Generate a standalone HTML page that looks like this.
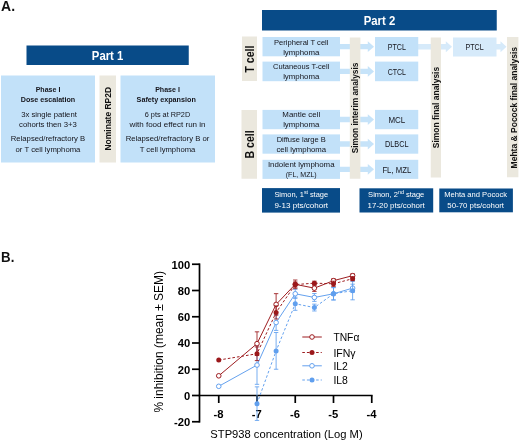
<!DOCTYPE html>
<html><head><meta charset="utf-8"><title>Figure</title>
<style>
html,body{margin:0;padding:0;background:#fff;}
body{width:520px;height:441px;overflow:hidden;}
svg{display:block;font-family:"Liberation Sans",sans-serif;filter:blur(0.35px);}
</style></head><body>
<svg width="520" height="441" viewBox="0 0 520 441">
<rect width="520" height="441" fill="#fff"/>
<text x="1.1" y="11.43" text-anchor="start" font-size="14.88" font-weight="700" fill="#111" textLength="13.97" lengthAdjust="spacingAndGlyphs">A.</text>
<text x="1.1" y="262.43" text-anchor="start" font-size="14.88" font-weight="700" fill="#111" textLength="13.25" lengthAdjust="spacingAndGlyphs">B.</text>
<rect x="26.5" y="45.5" width="162.25" height="19.5" fill="#084b88"/>
<text x="107.6" y="59.66" text-anchor="middle" font-size="11.9" font-weight="700" fill="#fff" textLength="31.5" lengthAdjust="spacingAndGlyphs">Part 1</text>
<rect x="1" y="75.5" width="94" height="87.0" fill="#c2e1f9"/>
<rect x="99.5" y="75.5" width="16.5" height="87.0" fill="#ebe8de"/>
<rect x="120.5" y="75.5" width="94.5" height="87.0" fill="#c2e1f9"/>
<text x="48" y="92.18" text-anchor="middle" font-size="7.77" font-weight="700" fill="#15151c" textLength="24.73" lengthAdjust="spacingAndGlyphs">Phase I</text>
<text x="48" y="102.08" text-anchor="middle" font-size="7.77" font-weight="700" fill="#15151c" textLength="54.49" lengthAdjust="spacingAndGlyphs">Dose escalation</text>
<text x="49" y="117.18" text-anchor="middle" font-size="7.77" fill="#15151c" textLength="55.69" lengthAdjust="spacingAndGlyphs">3x single patient</text>
<text x="48" y="127.18" text-anchor="middle" font-size="7.77" fill="#15151c" textLength="57.88" lengthAdjust="spacingAndGlyphs">cohorts then 3+3</text>
<text x="48" y="141.38" text-anchor="middle" font-size="7.77" fill="#15151c" textLength="74.5" lengthAdjust="spacingAndGlyphs">Relapsed/refractory B</text>
<text x="48" y="151.58" text-anchor="middle" font-size="7.77" fill="#15151c" textLength="64.84" lengthAdjust="spacingAndGlyphs">or T cell lymphoma</text>
<text transform="translate(110.54 118.7) rotate(-90)" text-anchor="middle" font-size="8.5" font-weight="700" fill="#111" textLength="63.64" lengthAdjust="spacingAndGlyphs">Nominate RP2D</text>
<text x="167.5" y="92.18" text-anchor="middle" font-size="7.77" font-weight="700" fill="#15151c" textLength="24.73" lengthAdjust="spacingAndGlyphs">Phase I</text>
<text x="166.2" y="102.08" text-anchor="middle" font-size="7.77" font-weight="700" fill="#15151c" textLength="59.21" lengthAdjust="spacingAndGlyphs">Safety expansion</text>
<text x="167.5" y="116.98" text-anchor="middle" font-size="7.77" fill="#15151c" textLength="45.41" lengthAdjust="spacingAndGlyphs">6 pts at RP2D</text>
<text x="167.5" y="127.18" text-anchor="middle" font-size="7.77" fill="#15151c" textLength="76.15" lengthAdjust="spacingAndGlyphs">with food effect run in</text>
<text x="167.5" y="141.38" text-anchor="middle" font-size="7.77" fill="#15151c" textLength="83.71" lengthAdjust="spacingAndGlyphs">Relapsed/refractory B or</text>
<text x="167.5" y="151.58" text-anchor="middle" font-size="7.77" fill="#15151c" textLength="55.63" lengthAdjust="spacingAndGlyphs">T cell lymphoma</text>
<rect x="262" y="10" width="234.75" height="20.5" fill="#084b88"/>
<text x="379.5" y="24.66" text-anchor="middle" font-size="11.9" font-weight="700" fill="#fff" textLength="31.5" lengthAdjust="spacingAndGlyphs">Part 2</text>
<rect x="242" y="36.5" width="15" height="44.5" fill="#ebe8de"/>
<rect x="241.5" y="110" width="15.5" height="68.75" fill="#ebe8de"/>
<text transform="translate(253.56 59.1) rotate(-90)" text-anchor="middle" font-size="11.9" font-weight="700" fill="#111" textLength="27.32" lengthAdjust="spacingAndGlyphs">T cell</text>
<text transform="translate(253.56 144.4) rotate(-90)" text-anchor="middle" font-size="11.9" font-weight="700" fill="#111" textLength="28.16" lengthAdjust="spacingAndGlyphs">B cell</text>
<path d="M340 43.949999999999996H367.8V41.25L374 46.65L367.8 52.05V49.35H340Z" fill="#c6e3f9"/>
<path d="M340 68.7H367.8V66.0L374 71.4L367.8 76.80000000000001V74.10000000000001H340Z" fill="#c6e3f9"/>
<path d="M340 116.85H367.8V114.14999999999999L374 119.55L367.8 124.95V122.25H340Z" fill="#c6e3f9"/>
<path d="M340 141.35000000000002H367.8V138.65L374 144.05L367.8 149.45000000000002V146.75H340Z" fill="#c6e3f9"/>
<path d="M340 166.65000000000003H367.8V163.95000000000002L374 169.35000000000002L367.8 174.75000000000003V172.05H340Z" fill="#c6e3f9"/>
<path d="M418 44.05H445.8V41.35L452 46.75L445.8 52.15V49.45H418Z" fill="#d6eafa"/>
<path d="M496 44.05H500.5V41.35L506.5 46.75L500.5 52.15V49.45H496Z" fill="#d6eafa"/>
<rect x="349.8" y="37.5" width="10.6" height="141.25" fill="#ebe8de"/>
<rect x="430.75" y="37.5" width="10.25" height="140.0" fill="#ebe8de"/>
<rect x="507" y="37" width="11.4" height="140.25" fill="#ebe8de"/>
<rect x="262.5" y="37" width="77.5" height="19.3" fill="#c2e1f9"/>
<text x="301.25" y="44.53" text-anchor="middle" font-size="7.77" fill="#15151c" textLength="54.47" lengthAdjust="spacingAndGlyphs">Peripheral T cell</text>
<text x="301.25" y="54.53" text-anchor="middle" font-size="7.77" fill="#15151c" textLength="36.25" lengthAdjust="spacingAndGlyphs">lymphoma</text>
<rect x="375" y="37" width="43.25" height="19.3" fill="#c2e1f9"/>
<text x="396.8" y="50.05" text-anchor="middle" font-size="8.65" fill="#15151c" textLength="18.2" lengthAdjust="spacingAndGlyphs">PTCL</text>
<rect x="262.5" y="61.6" width="77.5" height="19.6" fill="#c2e1f9"/>
<text x="301.25" y="69.28" text-anchor="middle" font-size="7.77" fill="#15151c" textLength="56.31" lengthAdjust="spacingAndGlyphs">Cutaneous T-cell</text>
<text x="301.25" y="79.28" text-anchor="middle" font-size="7.77" fill="#15151c" textLength="36.25" lengthAdjust="spacingAndGlyphs">lymphoma</text>
<rect x="375" y="61.6" width="43.25" height="19.6" fill="#c2e1f9"/>
<text x="396.8" y="74.8" text-anchor="middle" font-size="8.65" fill="#15151c" textLength="18.35" lengthAdjust="spacingAndGlyphs">CTCL</text>
<rect x="262.5" y="109.9" width="77.5" height="19.3" fill="#c2e1f9"/>
<text x="301.25" y="117.43" text-anchor="middle" font-size="7.77" fill="#15151c" textLength="37.84" lengthAdjust="spacingAndGlyphs">Mantle cell</text>
<text x="301.25" y="127.43" text-anchor="middle" font-size="7.77" fill="#15151c" textLength="36.25" lengthAdjust="spacingAndGlyphs">lymphoma</text>
<rect x="375" y="109.9" width="43.25" height="19.3" fill="#c2e1f9"/>
<text x="396.8" y="122.95" text-anchor="middle" font-size="8.65" fill="#15151c" textLength="16.81" lengthAdjust="spacingAndGlyphs">MCL</text>
<rect x="262.5" y="134.4" width="77.5" height="19.3" fill="#c2e1f9"/>
<text x="301.25" y="141.93" text-anchor="middle" font-size="7.77" fill="#15151c" textLength="49.24" lengthAdjust="spacingAndGlyphs">Diffuse large B</text>
<text x="301.25" y="151.93" text-anchor="middle" font-size="7.77" fill="#15151c" textLength="49.67" lengthAdjust="spacingAndGlyphs">cell lymphoma</text>
<rect x="375" y="134.4" width="43.25" height="19.3" fill="#c2e1f9"/>
<text x="396.8" y="147.45" text-anchor="middle" font-size="8.65" fill="#15151c" textLength="23.55" lengthAdjust="spacingAndGlyphs">DLBCL</text>
<rect x="262.5" y="159.8" width="77.5" height="19.1" fill="#c2e1f9"/>
<text x="301.25" y="167.23" text-anchor="middle" font-size="7.77" fill="#15151c" textLength="66.7" lengthAdjust="spacingAndGlyphs">Indolent lymphoma</text>
<text x="301.25" y="177.23" text-anchor="middle" font-size="7.77" fill="#15151c" textLength="30.97" lengthAdjust="spacingAndGlyphs">(FL, MZL)</text>
<rect x="375" y="159.8" width="43.25" height="19.1" fill="#c2e1f9"/>
<text x="396.8" y="172.75" text-anchor="middle" font-size="8.65" fill="#15151c" textLength="28.81" lengthAdjust="spacingAndGlyphs">FL, MZL</text>
<rect x="453" y="37.5" width="43.5" height="19.0" fill="#d6eafa"/>
<text x="474.6" y="50.2" text-anchor="middle" font-size="8.65" fill="#15151c" textLength="18.2" lengthAdjust="spacingAndGlyphs">PTCL</text>
<text transform="translate(358.04 108) rotate(-90)" text-anchor="middle" font-size="8.5" font-weight="700" fill="#111" textLength="90.66" lengthAdjust="spacingAndGlyphs">Simon interim analysis</text>
<text transform="translate(439.04 107.5) rotate(-90)" text-anchor="middle" font-size="8.5" font-weight="700" fill="#111" textLength="81.3" lengthAdjust="spacingAndGlyphs">Simon final analysis</text>
<text transform="translate(516.51 107.7) rotate(-90)" text-anchor="middle" font-size="8.4" font-weight="700" fill="#111" textLength="121.4" lengthAdjust="spacingAndGlyphs">Mehta &amp; Pocock final analysis</text>
<rect x="262" y="188.1" width="78" height="24.5" fill="#084b88"/>
<rect x="359.5" y="188.3" width="73.7" height="24.2" fill="#084b88"/>
<rect x="439.3" y="188.5" width="73.6" height="23.8" fill="#084b88"/>
<text x="274.4" y="196.9" text-anchor="start" font-size="7.81" fill="#fff" textLength="29.48" lengthAdjust="spacingAndGlyphs">Simon, 1</text>
<text x="303.88" y="194.1" text-anchor="start" font-size="5.31" fill="#fff" textLength="4.13" lengthAdjust="spacingAndGlyphs">st</text>
<text x="309.9" y="196.9" text-anchor="start" font-size="7.81" fill="#fff" textLength="18.2" lengthAdjust="spacingAndGlyphs">stage</text>
<text x="301.25" y="207.9" text-anchor="middle" font-size="7.81" fill="#fff" textLength="53.7" lengthAdjust="spacingAndGlyphs">9-13 pts/cohort</text>
<text x="368.1" y="196.9" text-anchor="start" font-size="7.81" fill="#fff" textLength="29.83" lengthAdjust="spacingAndGlyphs">Simon, 2</text>
<text x="397.93" y="194.1" text-anchor="start" font-size="5.31" fill="#fff" textLength="6.05" lengthAdjust="spacingAndGlyphs">nd</text>
<text x="405.89" y="196.9" text-anchor="start" font-size="7.81" fill="#fff" textLength="18.41" lengthAdjust="spacingAndGlyphs">stage</text>
<text x="396.2" y="207.9" text-anchor="middle" font-size="7.81" fill="#fff" textLength="57.2" lengthAdjust="spacingAndGlyphs">17-20 pts/cohort</text>
<text x="475.6" y="196.9" text-anchor="middle" font-size="7.81" fill="#fff" textLength="62.8" lengthAdjust="spacingAndGlyphs">Mehta and Pocock</text>
<text x="475.7" y="207.9" text-anchor="middle" font-size="7.81" fill="#fff" textLength="56.7" lengthAdjust="spacingAndGlyphs">50-70 pts/cohort</text>
<path d="M199.5 263.4V422.6" stroke="#000" stroke-width="1.7" fill="none"/>
<path d="M198.65 395.5H372.6" stroke="#000" stroke-width="1.7" fill="none"/>
<path d="M192 264.25H199.5" stroke="#000" stroke-width="1.7"/>
<text x="190.2" y="268.55" text-anchor="end" font-size="11.44" font-weight="700" fill="#000" textLength="18.71" lengthAdjust="spacingAndGlyphs">100</text>
<path d="M192 290.5H199.5" stroke="#000" stroke-width="1.7"/>
<text x="190.2" y="294.8" text-anchor="end" font-size="11.44" font-weight="700" fill="#000" textLength="12.47" lengthAdjust="spacingAndGlyphs">80</text>
<path d="M192 316.75H199.5" stroke="#000" stroke-width="1.7"/>
<text x="190.2" y="321.05" text-anchor="end" font-size="11.44" font-weight="700" fill="#000" textLength="12.47" lengthAdjust="spacingAndGlyphs">60</text>
<path d="M192 343.0H199.5" stroke="#000" stroke-width="1.7"/>
<text x="190.2" y="347.3" text-anchor="end" font-size="11.44" font-weight="700" fill="#000" textLength="12.47" lengthAdjust="spacingAndGlyphs">40</text>
<path d="M192 369.25H199.5" stroke="#000" stroke-width="1.7"/>
<text x="190.2" y="373.55" text-anchor="end" font-size="11.44" font-weight="700" fill="#000" textLength="12.47" lengthAdjust="spacingAndGlyphs">20</text>
<path d="M192 395.5H199.5" stroke="#000" stroke-width="1.7"/>
<text x="190.2" y="399.8" text-anchor="end" font-size="11.44" font-weight="700" fill="#000" textLength="6.24" lengthAdjust="spacingAndGlyphs">0</text>
<path d="M192 421.75H199.5" stroke="#000" stroke-width="1.7"/>
<text x="190.2" y="426.05" text-anchor="end" font-size="11.44" font-weight="700" fill="#000" textLength="16.24" lengthAdjust="spacingAndGlyphs">-20</text>
<path d="M218.75 395.5V403" stroke="#000" stroke-width="1.7"/>
<text x="218.45" y="417.9" text-anchor="middle" font-size="11.44" font-weight="700" fill="#000" textLength="10.0" lengthAdjust="spacingAndGlyphs">-8</text>
<path d="M257.0 395.5V403" stroke="#000" stroke-width="1.7"/>
<text x="256.7" y="417.9" text-anchor="middle" font-size="11.44" font-weight="700" fill="#000" textLength="10.0" lengthAdjust="spacingAndGlyphs">-7</text>
<path d="M295.25 395.5V403" stroke="#000" stroke-width="1.7"/>
<text x="294.95" y="417.9" text-anchor="middle" font-size="11.44" font-weight="700" fill="#000" textLength="10.0" lengthAdjust="spacingAndGlyphs">-6</text>
<path d="M333.5 395.5V403" stroke="#000" stroke-width="1.7"/>
<text x="333.2" y="417.9" text-anchor="middle" font-size="11.44" font-weight="700" fill="#000" textLength="10.0" lengthAdjust="spacingAndGlyphs">-5</text>
<path d="M371.75 395.5V403" stroke="#000" stroke-width="1.7"/>
<text x="371.45" y="417.9" text-anchor="middle" font-size="11.44" font-weight="700" fill="#000" textLength="10.0" lengthAdjust="spacingAndGlyphs">-4</text>
<text transform="translate(162.8 341.8) rotate(-90)" text-anchor="middle" font-size="12.0" fill="#000" textLength="141.6" lengthAdjust="spacingAndGlyphs">% inhibition (mean ± SEM)</text>
<text x="286.5" y="438.0" text-anchor="middle" font-size="11.72" fill="#000" textLength="152.3" lengthAdjust="spacingAndGlyphs">STP938 concentration (Log M)</text>
<path d="M257.0 345.76V384.34M254.8 345.76h4.4M254.8 384.34h4.4" stroke="#609fee" stroke-width="0.85" fill="none"/>
<path d="M276.12 314.65V330.4M273.92 314.65h4.4M273.92 330.4h4.4" stroke="#609fee" stroke-width="0.85" fill="none"/>
<path d="M295.25 289.19V298.38M293.05 289.19h4.4M293.05 298.38h4.4" stroke="#609fee" stroke-width="0.85" fill="none"/>
<path d="M314.38 293.52V301.39M312.18 293.52h4.4M312.18 301.39h4.4" stroke="#609fee" stroke-width="0.85" fill="none"/>
<path d="M333.5 287.61V299.95M331.3 287.61h4.4M331.3 299.95h4.4" stroke="#609fee" stroke-width="0.85" fill="none"/>
<path d="M352.62 284.2V292.07M350.42 284.2h4.4M350.42 292.07h4.4" stroke="#609fee" stroke-width="0.85" fill="none"/>
<path d="M218.75 386.31L257.0 365.05L276.12 322.52L295.25 293.78L314.38 297.46L333.5 293.78L352.62 288.14" stroke="#609fee" stroke-width="0.98" fill="none"/>
<circle cx="218.75" cy="386.31" r="2.3" fill="#fff" stroke="#609fee" stroke-width="0.98"/>
<circle cx="257.0" cy="365.05" r="2.3" fill="#fff" stroke="#609fee" stroke-width="0.98"/>
<circle cx="276.12" cy="322.52" r="2.3" fill="#fff" stroke="#609fee" stroke-width="0.98"/>
<circle cx="295.25" cy="293.78" r="2.3" fill="#fff" stroke="#609fee" stroke-width="0.98"/>
<circle cx="314.38" cy="297.46" r="2.3" fill="#fff" stroke="#609fee" stroke-width="0.98"/>
<circle cx="333.5" cy="293.78" r="2.3" fill="#fff" stroke="#609fee" stroke-width="0.98"/>
<circle cx="352.62" cy="288.14" r="2.3" fill="#fff" stroke="#609fee" stroke-width="0.98"/>
<path d="M257.0 386.84V420.44M254.8 386.84h4.4M254.8 420.44h4.4" stroke="#609fee" stroke-width="0.85" fill="none"/>
<path d="M276.12 332.5V369.25M273.92 332.5h4.4M273.92 369.25h4.4" stroke="#609fee" stroke-width="0.85" fill="none"/>
<path d="M295.25 297.19V310.32M293.05 297.19h4.4M293.05 310.32h4.4" stroke="#609fee" stroke-width="0.85" fill="none"/>
<path d="M314.38 304.15V310.98M312.18 304.15h4.4M312.18 310.98h4.4" stroke="#609fee" stroke-width="0.85" fill="none"/>
<path d="M333.5 287.61V299.95M331.3 287.61h4.4M331.3 299.95h4.4" stroke="#609fee" stroke-width="0.85" fill="none"/>
<path d="M352.62 281.44V299.82M350.42 281.44h4.4M350.42 299.82h4.4" stroke="#609fee" stroke-width="0.85" fill="none"/>
<path d="M257.0 403.64L276.12 350.88L295.25 303.76L314.38 307.56L333.5 293.78L352.62 290.63" stroke="#609fee" stroke-width="0.98" fill="none" stroke-dasharray="2.6 2"/>
<circle cx="257.0" cy="403.64" r="2.5" fill="#609fee"/>
<circle cx="276.12" cy="350.88" r="2.5" fill="#609fee"/>
<circle cx="295.25" cy="303.76" r="2.5" fill="#609fee"/>
<circle cx="314.38" cy="307.56" r="2.5" fill="#609fee"/>
<circle cx="333.5" cy="293.78" r="2.5" fill="#609fee"/>
<circle cx="352.62" cy="290.63" r="2.5" fill="#609fee"/>
<path d="M257.0 331.84V355.47M254.8 331.84h4.4M254.8 355.47h4.4" stroke="#9b181b" stroke-width="0.85" fill="none"/>
<path d="M276.12 293.65V315.18M273.92 293.65h4.4M273.92 315.18h4.4" stroke="#9b181b" stroke-width="0.85" fill="none"/>
<path d="M295.25 280.0V288.66M293.05 280.0h4.4M293.05 288.66h4.4" stroke="#9b181b" stroke-width="0.85" fill="none"/>
<path d="M314.38 284.86V291.42M312.18 284.86h4.4M312.18 291.42h4.4" stroke="#9b181b" stroke-width="0.85" fill="none"/>
<path d="M333.5 278.69V282.62M331.3 278.69h4.4M331.3 282.62h4.4" stroke="#9b181b" stroke-width="0.85" fill="none"/>
<path d="M352.62 273.7V277.64M350.42 273.7h4.4M350.42 277.64h4.4" stroke="#9b181b" stroke-width="0.85" fill="none"/>
<path d="M218.75 375.81L257.0 343.66L276.12 304.41L295.25 284.33L314.38 288.14L333.5 280.66L352.62 275.67" stroke="#9b181b" stroke-width="0.98" fill="none"/>
<circle cx="218.75" cy="375.81" r="2.3" fill="#fff" stroke="#9b181b" stroke-width="0.98"/>
<circle cx="257.0" cy="343.66" r="2.3" fill="#fff" stroke="#9b181b" stroke-width="0.98"/>
<circle cx="276.12" cy="304.41" r="2.3" fill="#fff" stroke="#9b181b" stroke-width="0.98"/>
<circle cx="295.25" cy="284.33" r="2.3" fill="#fff" stroke="#9b181b" stroke-width="0.98"/>
<circle cx="314.38" cy="288.14" r="2.3" fill="#fff" stroke="#9b181b" stroke-width="0.98"/>
<circle cx="333.5" cy="280.66" r="2.3" fill="#fff" stroke="#9b181b" stroke-width="0.98"/>
<circle cx="352.62" cy="275.67" r="2.3" fill="#fff" stroke="#9b181b" stroke-width="0.98"/>
<path d="M257.0 346.94V360.59M254.8 346.94h4.4M254.8 360.59h4.4" stroke="#9b181b" stroke-width="0.85" fill="none"/>
<path d="M276.12 305.86V318.98M273.92 305.86h4.4M273.92 318.98h4.4" stroke="#9b181b" stroke-width="0.85" fill="none"/>
<path d="M295.25 281.97V287.22M293.05 281.97h4.4M293.05 287.22h4.4" stroke="#9b181b" stroke-width="0.85" fill="none"/>
<path d="M314.38 281.18V285.12M312.18 281.18h4.4M312.18 285.12h4.4" stroke="#9b181b" stroke-width="0.85" fill="none"/>
<path d="M333.5 281.18V286.43M331.3 281.18h4.4M331.3 286.43h4.4" stroke="#9b181b" stroke-width="0.85" fill="none"/>
<path d="M352.62 276.72V280.66M350.42 276.72h4.4M350.42 280.66h4.4" stroke="#9b181b" stroke-width="0.85" fill="none"/>
<path d="M218.75 360.06L257.0 353.76L276.12 312.42L295.25 284.59L314.38 283.15L333.5 283.81L352.62 278.69" stroke="#9b181b" stroke-width="0.98" fill="none" stroke-dasharray="2.6 2"/>
<circle cx="218.75" cy="360.06" r="2.5" fill="#9b181b"/>
<circle cx="257.0" cy="353.76" r="2.5" fill="#9b181b"/>
<circle cx="276.12" cy="312.42" r="2.5" fill="#9b181b"/>
<circle cx="295.25" cy="284.59" r="2.5" fill="#9b181b"/>
<circle cx="314.38" cy="283.15" r="2.5" fill="#9b181b"/>
<circle cx="333.5" cy="283.81" r="2.5" fill="#9b181b"/>
<circle cx="352.62" cy="278.69" r="2.5" fill="#9b181b"/>
<path d="M302.3 337H321.8" stroke="#9b181b" stroke-width="0.98"/>
<circle cx="312" cy="337" r="2.3" fill="#fff" stroke="#9b181b" stroke-width="0.98"/>
<text x="333.4" y="341.4" text-anchor="start" font-size="11.44" fill="#000" textLength="25.98" lengthAdjust="spacingAndGlyphs">TNFα</text>
<path d="M302.3 352.5H321.8" stroke="#9b181b" stroke-width="0.98" stroke-dasharray="2.6 2"/>
<circle cx="312" cy="352.5" r="2.5" fill="#9b181b"/>
<text x="333.4" y="356.9" text-anchor="start" font-size="11.44" fill="#000" textLength="22.23" lengthAdjust="spacingAndGlyphs">IFNγ</text>
<path d="M302.3 365.8H321.8" stroke="#609fee" stroke-width="0.98"/>
<circle cx="312" cy="365.8" r="2.3" fill="#fff" stroke="#609fee" stroke-width="0.98"/>
<text x="333.4" y="370.2" text-anchor="start" font-size="11.44" fill="#000" textLength="14.5" lengthAdjust="spacingAndGlyphs">IL2</text>
<path d="M302.3 380H321.8" stroke="#609fee" stroke-width="0.98" stroke-dasharray="2.6 2"/>
<circle cx="312" cy="380" r="2.5" fill="#609fee"/>
<text x="333.4" y="384.4" text-anchor="start" font-size="11.44" fill="#000" textLength="14.5" lengthAdjust="spacingAndGlyphs">IL8</text>
</svg>
</body></html>
